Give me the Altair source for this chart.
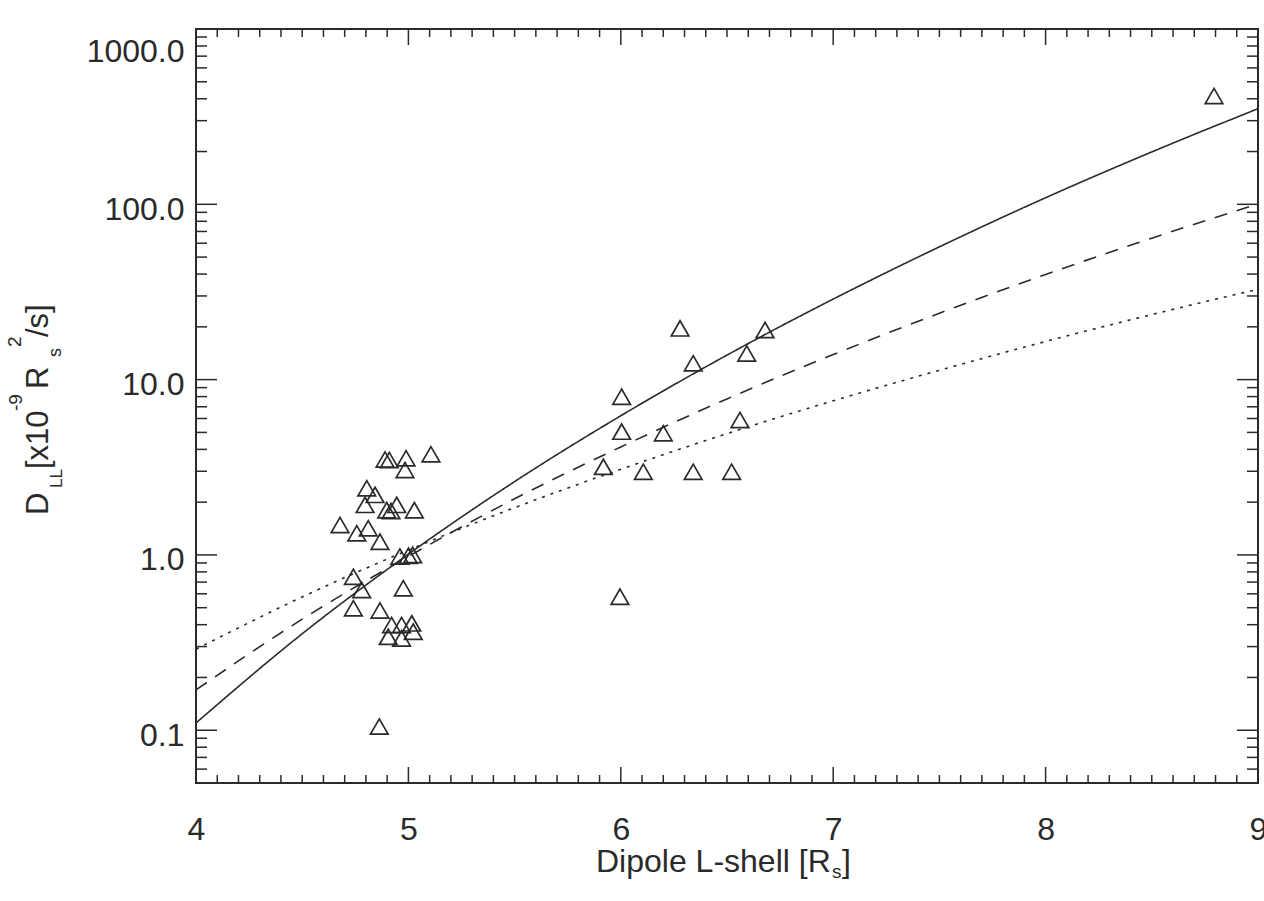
import altair as alt
import pandas as pd

# ---------------- data ----------------
# observed diffusion coefficients (triangles)
L_obs = [4.89, 4.91, 4.989, 4.984, 5.106,
         4.804, 4.843, 4.796, 4.898, 4.945, 4.918, 5.028,
         4.678, 4.757, 4.811, 4.866,
         4.96, 5.00, 5.02,
         4.741, 4.780, 4.976, 4.741, 4.866,
         4.921, 4.968, 5.016, 4.905, 4.968, 5.023,
         4.863,
         6.279, 6.679, 6.341, 6.593, 6.004, 6.004, 6.200, 6.561,
         5.918, 6.106, 6.341, 6.522, 5.996,
         8.793]
D_obs = [3.50, 3.48, 3.56, 3.05, 3.75,
         2.40, 2.20, 1.93, 1.80, 1.93, 1.78, 1.80,
         1.48, 1.33, 1.42, 1.19,
         0.98, 0.99, 1.00,
         0.751, 0.631, 0.645, 0.496, 0.482,
         0.398, 0.398, 0.407, 0.341, 0.334, 0.365,
         0.105,
         19.6, 19.2, 12.4, 14.1, 7.99, 5.05, 4.94, 5.88,
         3.18, 2.98, 2.98, 2.98, 0.578,
         415.0]

# model curves, read at half-unit steps of L
L_curve = [4.0, 4.5, 5.0, 5.5, 6.0, 6.5, 7.0, 7.5, 8.0, 8.5, 9.0]
D_solid = [0.110, 0.355, 1.01, 2.62, 6.22, 13.8, 28.8, 57.2, 109.0, 199.0, 351.0]
D_dashed = [0.170, 0.43, 0.98, 2.09, 4.13, 7.76, 13.9, 23.9, 39.8, 64.1, 100.5]
D_dotted = [0.29, 0.576, 1.065, 1.86, 3.08, 4.92, 7.57, 11.3, 16.5, 23.5, 32.8]

# axis ticks
x_major = [4, 5, 6, 7, 8, 9]
x_minor = [round(4 + 0.1 * i, 1) for i in range(51) if i % 10 != 0]
y_major = [0.1, 1.0, 10.0, 100.0, 1000.0]
y_minor = [round(m * 10.0 ** e, 6) for e in range(-2, 3) for m in range(2, 10)]
y_minor = [v for v in y_minor if 0.05 < v < 1000]

# ---------------- layout ----------------
W, H = 1062, 754
FONT = "Liberation Sans"
INK = "#2a2a2a"
FS_LAB = 32
FS = 31

obs = pd.DataFrame({"L": L_obs, "D": D_obs})
curves = pd.DataFrame({
    "L": L_curve * 3,
    "D": D_solid + D_dashed + D_dotted,
    "model": ["solid"] * len(L_curve) + ["dashed"] * len(L_curve) + ["dotted"] * len(L_curve),
})

xs = alt.Scale(domain=[4, 9], nice=False, zero=False)
ys = alt.Scale(type="log", domain=[0.05, 1000], nice=False)

xaxis = alt.Axis(values=x_major, format="d", title=None, grid=False, domain=False,
                 ticks=False, tickSize=0, labelFlush=False, labelFontSize=FS_LAB,
                 labelFont=FONT, labelColor=INK, labelPadding=56,
                 labelBaseline="alphabetic")
yaxis = alt.Axis(values=y_major, labelExpr="format(datum.value, '.1f')", title=None,
                 grid=False, domain=False, ticks=False, tickSize=0, labelFlush=True,
                 labelFlushOffset=-2,
                 labelFontSize=FS_LAB, labelFont=FONT, labelColor=INK, labelPadding=12,
                 labelOffset=5)

X = alt.X("L:Q", scale=xs, axis=xaxis)
Y = alt.Y("D:Q", scale=ys, axis=yaxis)

points = alt.Chart(obs).mark_point(
    shape="triangle-up", filled=False, size=310, color=INK, strokeWidth=1.7, opacity=1
).encode(x=X, y=Y)

lines = alt.Chart(curves).mark_line(
    interpolate="monotone", color=INK, strokeWidth=1.6
).encode(
    x=X, y=Y, detail="model:N",
    strokeDash=alt.StrokeDash("model:N", legend=None,
                              scale=alt.Scale(domain=["solid", "dashed", "dotted"],
                                              range=[[1, 0], [13, 10], [3, 6]])),
)

def xticks(vals, length):
    d = pd.DataFrame({"L": vals})
    bot = alt.Chart(d).mark_rule(color=INK, strokeWidth=1.5).encode(
        x=X, y=alt.value(H), y2=alt.value(H - length))
    top = alt.Chart(d).mark_rule(color=INK, strokeWidth=1.5).encode(
        x=X, y=alt.value(0), y2=alt.value(length))
    return [bot, top]

def yticks(vals, length):
    d = pd.DataFrame({"D": vals})
    left = alt.Chart(d).mark_rule(color=INK, strokeWidth=1.5).encode(
        y=Y, x=alt.value(0), x2=alt.value(length))
    right = alt.Chart(d).mark_rule(color=INK, strokeWidth=1.5).encode(
        y=Y, x=alt.value(W), x2=alt.value(W - length))
    return [left, right]

one = pd.DataFrame({"k": [0]})

def txt(s, x, y, fs, angle=0):
    kw = dict(text=s, align="left", baseline="alphabetic", fontSize=fs, font=FONT, color=INK)
    if angle:
        kw["angle"] = angle
    return alt.Chart(one).mark_text(**kw).encode(x=alt.value(x), y=alt.value(y))

# y-axis title: D_LL [x10^-9 R_s^2/s]  (rotated, pieces placed along the axis)
ytitle = [
    txt("D", -148, 486, FS, 270),
    txt("LL", -134, 459, 17, 270),
    txt("[x10", -148, 440, FS, 270),
    txt("-9", -174, 382, 19, 270),
    txt("R", -148, 360, FS, 270),
    txt("s", -135, 328, 18, 270),
    txt("2", -175, 318, 19, 270),
    txt("/s]", -148, 308, FS, 270),
]
# x-axis title: Dipole L-shell [R_s]
xtitle = [
    txt("Dipole L-shell [R", 400, 843, 32),
    txt("s", 636, 849, 19),
    txt("]", 646, 843, 32),
]

layers = ([lines, points] + xticks(x_major, 16) + xticks(x_minor, 8)
          + yticks(y_major, 21) + yticks(y_minor, 11) + ytitle + xtitle)

chart = alt.layer(*layers).properties(
    width=W, height=H,
    autosize=alt.AutoSizeParams(type="none"),
    padding={"left": 196, "top": 29, "right": 6, "bottom": 118},
    background="white",
).configure_view(stroke=INK, strokeWidth=2)

chart.save("out.html", embed_options={"renderer": "svg", "actions": False})
